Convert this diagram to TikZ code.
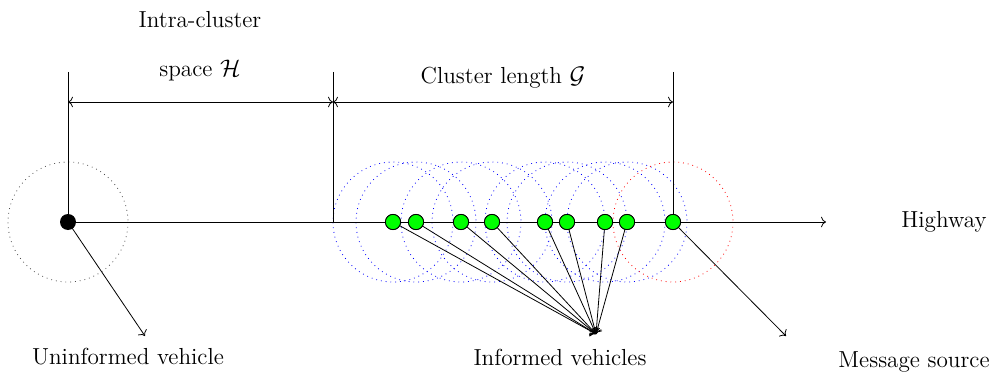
\documentclass[tikz,border=0pt]{standalone}
\usetikzlibrary{arrows.meta}
\begin{document}
\begin{tikzpicture}[x=0.5pt,y=-0.5pt,
  lbl/.style={font=\fontsize{11.6}{13}\selectfont, inner sep=0pt},
  car/.style={circle, draw=black, fill=green, minimum size=7.6pt, inner sep=0pt},
  radio/.style={dotted, thin},
  lead/.style={->, thin}]
\useasboundingbox (0,0) rectangle (990,374);
% highway
\node[circle, fill=black, minimum size=8pt, inner sep=0pt] (u) at (68,222) {};
\coordinate (hend) at (826,222);
\draw[radio, black!70] (u) circle[radius=60];
% ranges
\foreach \x [count=\i] in {393,416,461,492,545,567,605,627}{
  \draw[radio, blue] (\x,222) circle[radius=60];
}
\draw[radio, red] (673,222) circle[radius=60];
\draw[->] (u) -- (hend);
% vertical markers
\coordinate (t1) at (68,72);
\coordinate (t2) at (333,72);
\coordinate (b2) at (333,222);
\coordinate (t3) at (673,72);
\coordinate (b3) at (673,222);
\draw (t1) -- (u.center);
\draw (t2) -- (b2);
\draw (t3) -- (b3);
\coordinate (d1) at (68,102);
\coordinate (d2) at (333,102);
\coordinate (d3) at (673,102);
\draw[<->] (d1) -- (d2);
\draw[<->] (d2) -- (d3);
\node[lbl] (l1) at (200,20) {Intra-cluster};
\node[lbl] (l2) at (200,71) {space $\mathcal{H}$};
\node[lbl] (l3) at (503,78) {Cluster length $\mathcal{G}$};
% cars
\coordinate (inf) at (596,334);
\foreach \x [count=\i] in {393,416,461,492,545,567,605,627}{
  \node[car] (c\i) at (\x,222) {};
}
\foreach \i in {1,...,8}{ \draw[lead] (c\i.center) -- (inf); }
\foreach \i in {1,...,8}{ \node[car] at (c\i) {}; }
\node[car] (src) at (673,222) {};
\coordinate (srcend) at (786,336);
\draw[lead] (src.center) -- (srcend);
\node[car] at (src) {};
\coordinate (uend) at (145,336);
\draw[lead] (u.center) -- (uend);
\node[lbl] (hw) at (944,222) {Highway};
\node[lbl] (un) at (128,357) {Uninformed vehicle};
\node[lbl] (iv) at (560,357) {Informed vehicles};
\node[lbl] (ms) at (914,362) {Message source};
\end{tikzpicture}
\end{document}
